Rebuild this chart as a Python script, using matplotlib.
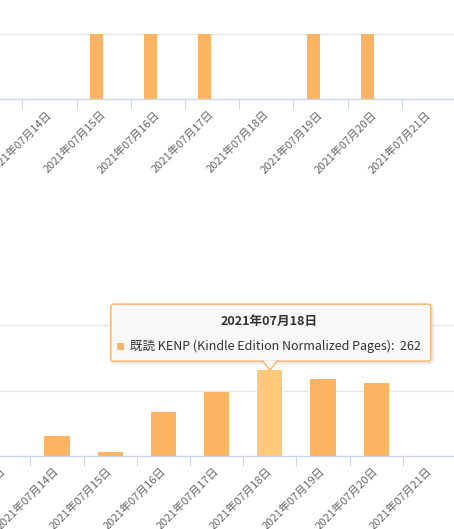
import numpy as np
import matplotlib.pyplot as plt
from matplotlib.patches import FancyBboxPatch, Polygon, Rectangle
from matplotlib.lines import Line2D
from matplotlib.transforms import IdentityTransform, ScaledTranslation

plt.rcParams['font.family'] = ['Noto Sans CJK JP', 'DejaVu Sans']

# data
dates = ["2021年07月13日", "2021年07月14日", "2021年07月15日", "2021年07月16日",
         "2021年07月17日", "2021年07月18日", "2021年07月19日", "2021年07月20日",
         "2021年07月21日"]
top_values = [0, 0, 1, 1, 1, 0, 1, 1, 0]
kenp_values = [0, 62, 12, 133, 196, 262, 236, 223, 0]
series_name = "既読 KENP (Kindle Edition Normalized Pages)"
hover_index = 5
top_grid = [1]
bottom_grid = [200, 400]

BAR = "#fdb462"
BAR_HOVER = "#ffc979"
AXIS = "#ccd6eb"
GRID = "#e6e6e6"
LABEL = "#666666"

W, H = 454, 529
fig = plt.figure(figsize=(W / 100, H / 100), dpi=100)


def px_axes(left, top, width, height):
    return fig.add_axes([left / W, 1 - (top + height) / H, width / W, height / H])


def style_axes(ax, grid):
    for s in ["top", "right", "left"]:
        ax.spines[s].set_visible(False)
    ax.spines["bottom"].set_color(AXIS)
    ax.spines["bottom"].set_linewidth(1)
    ax.set_axisbelow(True)
    ax.set_yticks(grid)
    ax.yaxis.grid(True, color=GRID, linewidth=1)
    ax.tick_params(axis="y", length=0, labelleft=False)
    ax.set_xticks(np.arange(len(dates) + 1) - 0.5)
    ax.tick_params(axis="x", length=7.2, width=0.72, color=AXIS, labelbottom=False)
    off = ScaledTranslation(2.5 / 100, -16 / 100, fig.dpi_scale_trans)
    for i, d in enumerate(dates):
        ax.text(i, 0, d, transform=ax.get_xaxis_transform() + off,
                rotation=45, rotation_mode="anchor", ha="right", va="baseline",
                fontsize=8, color=LABEL)


x = np.arange(len(dates))

# top chart
ax1 = px_axes(0, 0, W, 99.3)
ax1.bar(x - 0.135, top_values, 0.24, color=BAR, linewidth=0)
style_axes(ax1, top_grid)
left1 = 1 - 49.5 / 54.2
ax1.set_xlim(left1, left1 + W / 54.2)
ax1.set_ylim(0, 99.3 / 65)

# bottom chart
ax2 = px_axes(0, 320, W, 136)
colors = [BAR_HOVER if i == hover_index else BAR for i in range(len(dates))]
ax2.bar(x, kenp_values, 0.47, color=colors, linewidth=0)
style_axes(ax2, bottom_grid)
left2 = 1 - 57 / 53.2
ax2.set_xlim(left2, left2 + W / 53.2)
ax2.set_ylim(0, 136 * 400 / 131)

# tooltip
fig.canvas.draw()
ax_, ay_ = ax2.transData.transform((hover_index, kenp_values[hover_index]))
ident = IdentityTransform()
bx0, bx1 = ax_ - 159, ax_ + 161
by0, by1 = ay_ + 9, ay_ + 66
shadow = FancyBboxPatch((bx0 + 1, by0 - 1), bx1 - bx0, by1 - by0,
                        boxstyle="round,pad=0,rounding_size=3",
                        facecolor="none", edgecolor=(0, 0, 0, 0.08), linewidth=3,
                        transform=ident)
fig.add_artist(shadow)
box = FancyBboxPatch((bx0, by0), bx1 - bx0, by1 - by0,
                     boxstyle="round,pad=0,rounding_size=3",
                     facecolor="#f8f8f8", edgecolor=BAR, linewidth=1,
                     transform=ident)
fig.add_artist(box)
tri = Polygon([(ax_ - 7, by0 + 0.8), (ax_ + 7, by0 + 0.8), (ax_, ay_)],
              closed=True, facecolor="#f8f8f8", edgecolor="none", transform=ident)
fig.add_artist(tri)
fig.add_artist(Line2D([ax_ - 7, ax_, ax_ + 7], [by0, ay_, by0],
                      color=BAR, linewidth=1, transform=ident))
fig.text(ax_ - 1, ay_ + 49, dates[hover_index], transform=ident,
         ha="center", va="center", fontsize=9.1, fontweight="bold", color="#333333")
fig.add_artist(Rectangle((ax_ - 152.5, ay_ + 20.5), 7, 7, facecolor=BAR,
                         edgecolor="none", transform=ident))
fig.text(ax_ - 140, ay_ + 24, f"{series_name}:  {kenp_values[hover_index]}",
         transform=ident, ha="left", va="center", fontsize=9, color="#333333")

fig.savefig("out.png", dpi=100)
